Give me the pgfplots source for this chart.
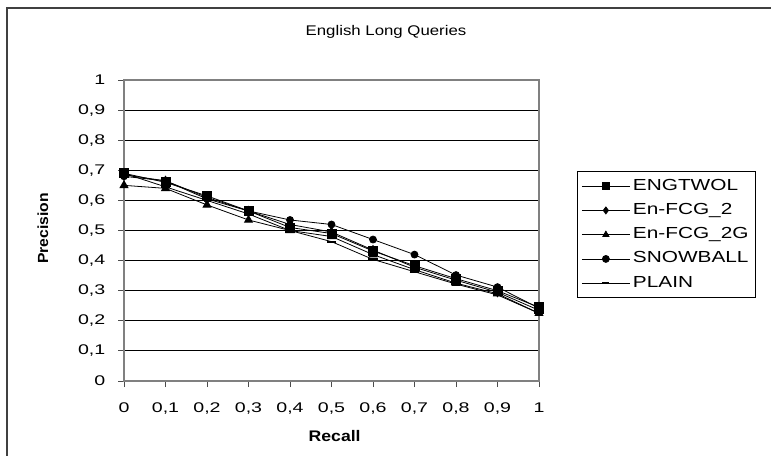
\documentclass[border=0pt]{standalone}
\usepackage{graphicx}
\usepackage{pgfplots}
\pgfplotsset{compat=1.18}
\usepackage{fontspec}
\setmainfont{Liberation Sans}
\newcommand\sx[2][1.4]{\scalebox{#1}[1]{#2}}
\begin{document}
\begin{tikzpicture}
\useasboundingbox (0pt,0pt) rectangle (578.25pt,341.25pt);
\draw[line width=1pt, black!75] (5.25pt,-4pt) rectangle (582pt,335.25pt);
\node[font=\fontsize{10.5}{12}\selectfont] at (289.5pt,317.25pt) {\sx[1.2]{English Long Queries}};
\node[font=\fontsize{11}{13}\selectfont\bfseries, rotate=90] at (32.25pt,170pt) {\sx[1.07]{Precision}};
\node[font=\fontsize{11.5}{13}\selectfont\bfseries] at (251pt,14.5pt) {\sx[1.15]{Recall}};
\begin{axis}[
  at={(93pt,55.5pt)}, anchor=south west,
  scale only axis, width=311.25pt, height=225.75pt,
  xmin=0, xmax=1, ymin=0, ymax=1,
  xtick={0,0.1,...,1.01}, ytick={0,0.1,...,1.01},
  xticklabels={\sx{0},\sx{0,1},\sx{0,2},\sx{0,3},\sx{0,4},\sx{0,5},\sx{0,6},\sx{0,7},\sx{0,8},\sx{0,9},\sx{1}},
  yticklabels={\sx{0},\sx{0,1},\sx{0,2},\sx{0,3},\sx{0,4},\sx{0,5},\sx{0,6},\sx{0,7},\sx{0,8},\sx{0,9},\sx{1}},
  tick label style={font=\fontsize{10.5}{12}\selectfont},
  xticklabel style={yshift=-8.5pt},
  yticklabel style={xshift=-6pt},
  tick align=outside, tickpos=left,
  major tick length=4.5pt,
  axis line style={black!50, line width=0.8pt},
  ymajorgrids, grid style={black, line width=0.7pt},
  every tick/.style={black!70, line width=0.7pt},
  clip=false,
  legend style={at={(1.0916,0.6977)}, anchor=north west, draw=black, line width=0.7pt,
    font=\fontsize{12}{14}\selectfont, row sep=6.2pt, inner xsep=3pt, inner ysep=5pt,
    nodes={inner ysep=0pt, text height=9pt, text depth=3pt},
    cells={anchor=west}},
  legend image code/.code={\draw[mark repeat=2,mark phase=2,mark size=2.6pt] plot coordinates {(0pt,0pt) (18pt,0pt) (36pt,0pt)};},
]
\addplot[black, line width=0.6pt, mark=square*, mark size=3.4pt, mark options={solid, fill=black}] coordinates {
(0,0.690) (0.1,0.660) (0.2,0.615) (0.3,0.565) (0.4,0.510) (0.5,0.490) (0.6,0.432) (0.7,0.383) (0.8,0.340) (0.9,0.300) (1,0.245)};
\addlegendentry{\sx[1.3]{ENGTWOL}}
\addplot[black, line width=0.6pt, mark=diamond*, mark size=3.4pt, mark options={solid, fill=black}] coordinates {
(0,0.685) (0.1,0.665) (0.2,0.610) (0.3,0.565) (0.4,0.520) (0.5,0.495) (0.6,0.435) (0.7,0.378) (0.8,0.335) (0.9,0.295) (1,0.235)};
\addlegendentry{\sx[1.3]{En-FCG\_2}}
\addplot[black, line width=0.6pt, mark=triangle*, mark size=3.4pt, mark options={solid, fill=black}] coordinates {
(0,0.650) (0.1,0.640) (0.2,0.585) (0.3,0.535) (0.4,0.500) (0.5,0.480) (0.6,0.420) (0.7,0.370) (0.8,0.325) (0.9,0.290) (1,0.225)};
\addlegendentry{\sx[1.3]{En-FCG\_2G}}
\addplot[black, line width=0.6pt, mark=*, mark size=2.6pt, mark options={solid, fill=black}] coordinates {
(0,0.680) (0.1,0.665) (0.2,0.605) (0.3,0.565) (0.4,0.535) (0.5,0.520) (0.6,0.470) (0.7,0.420) (0.8,0.352) (0.9,0.312) (1,0.242)};
\addlegendentry{\sx[1.3]{SNOWBALL}}
\addplot[black, line width=0.6pt, mark=-, mark size=3.4pt, mark options={solid, line width=1.5pt}] coordinates {
(0,0.690) (0.1,0.645) (0.2,0.600) (0.3,0.555) (0.4,0.500) (0.5,0.463) (0.6,0.404) (0.7,0.363) (0.8,0.322) (0.9,0.286) (1,0.225)};
\addlegendentry{\sx[1.3]{PLAIN}}
\end{axis}
\end{tikzpicture}
\end{document}
